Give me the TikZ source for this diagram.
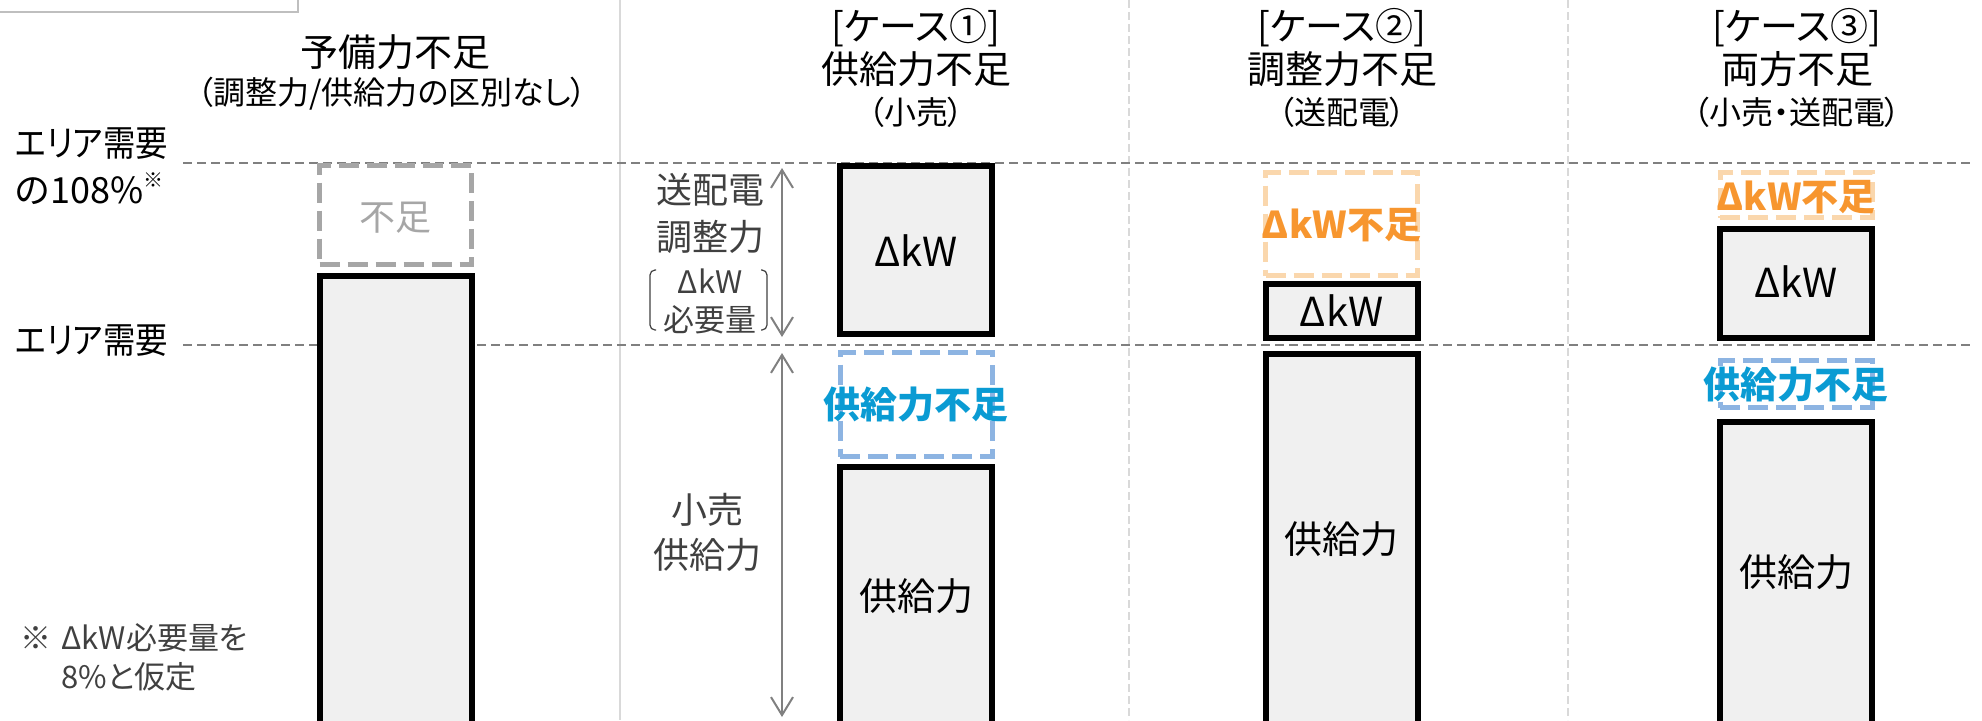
\documentclass[tikz,border=0pt]{standalone}
\usepackage{fontspec}
\setmainfont{Noto Sans CJK JP}[RawFeature=+palt]
\usetikzlibrary{arrows.meta}
\definecolor{boxfill}{HTML}{F0F0F0}
\definecolor{dgray}{HTML}{A6A6A6}
\definecolor{lineg}{HTML}{808080}
\definecolor{sepg}{HTML}{D9D9D9}
\definecolor{txtg}{HTML}{404040}
\definecolor{orgtxt}{HTML}{F7962F}
\definecolor{orgdash}{HTML}{FAD7AD}
\definecolor{bluetxt}{HTML}{0A9BD3}
\definecolor{bluedash}{HTML}{8DB4E2}
\definecolor{legendg}{HTML}{BFBFBF}
\begin{document}
\begin{tikzpicture}[x=0.5pt,y=-0.5pt,
  big/.style={font=\fontsize{18pt}{20pt}\selectfont, inner sep=0pt, text height=15.5pt, text depth=2.5pt},
  title/.style={font=\fontsize{19pt}{21pt}\selectfont, inner sep=0pt, text height=16.4pt, text depth=2.6pt},
  dkw/.style={font=\fontsize{20pt}{22pt}\selectfont, inner sep=0pt, text height=14.6pt, text depth=0pt},
  sub/.style={font=\fontsize{16pt}{18pt}\selectfont, inner sep=0pt, text height=13.8pt, text depth=2.2pt},
  small/.style={font=\fontsize{15.5pt}{17pt}\selectfont, inner sep=0pt, text height=13.4pt, text depth=2.1pt},
  boldlab/.style={font=\fontsize{18.5pt}{20pt}\selectfont\bfseries, inner sep=0pt, text height=16pt, text depth=2.5pt},
  solidbox/.style={draw=black, line width=3pt, fill=boxfill, inner sep=0pt, minimum width=76pt},
  dashbox/.style={line width=2.5pt, dash pattern=on 10pt off 4pt, inner sep=0pt, minimum width=76pt},
  levelline/.style={draw=lineg, line width=1.25pt, dash pattern=on 4.5pt off 2.5pt},
  sepline/.style={draw=sepg, line width=0.8pt},
  sepdash/.style={draw=sepg, line width=0.8pt, dash pattern=on 4pt off 2pt},
  garrow/.style={draw=lineg, line width=1pt, {Straight Barb[length=9pt,width=11pt]}-{Straight Barb[length=9pt,width=11pt]}},
  bracketline/.style={draw=txtg, line width=0.6pt, rounded corners=2.5pt}
]
\useasboundingbox (0,0) rectangle (1982,720);
\clip (0,0) rectangle (1982,720);

% partial legend frame at top-left
\draw[draw=legendg, line width=1pt, fill=white] (-10,-10) rectangle (298,12);

% separators
\coordinate (s1t) at (620,0);  \coordinate (s1b) at (620,720);
\coordinate (s2t) at (1129,0); \coordinate (s2b) at (1129,720);
\coordinate (s3t) at (1568,0); \coordinate (s3b) at (1568,720);
\draw[sepline] (s1t) -- (s1b);
\draw[sepdash] (s2t) -- (s2b);
\draw[sepdash] (s3t) -- (s3b);

% level lines
\coordinate (l1s) at (183,163); \coordinate (l1e) at (1975,163);
\coordinate (l2s) at (183,345); \coordinate (l2e) at (1975,345);
\draw[levelline] (l1s) -- (l1e);
\draw[levelline] (l2s) -- (l2e);

% left labels
\node[big, anchor=west] (lab108a) at (15,143) {\scalebox{0.9}[1]{エリア需要}};
\node[big, anchor=west] (lab108b) at (15,190) {の108\%\raisebox{0.42em}{\fontsize{10pt}{10pt}\selectfont ※}};
\node[big, anchor=west] (labdem) at (15,340) {\scalebox{0.9}[1]{エリア需要}};

% note
\node[small, anchor=west, text=txtg] (noteA) at (20,638) {※};
\node[small, anchor=west, text=txtg] (noteB) at (61,638) {ΔkW必要量を};
\node[small, anchor=west, text=txtg] (noteC) at (61,677) {8\%と仮定};

% ---------- column 0 ----------
\node[title] (t0a) at (395,53) {予備力不足};
\node[sub] (t0b) at (392,93) {（調整力/供給力の区別なし）};
\node[dashbox, draw=dgray, minimum height=49.5pt] (c0short) at (395.5,215) {};
\node[big, text=dgray] (c0shortlab) at (395.5,217) {不足};
\node[solidbox, minimum height=226pt] (c0sup) at (395.5,502) {};

% ---------- column 1 ----------
\node[title] (t1a) at (916,27) {[ケース①]};
\node[title] (t1b) at (916,70) {供給力不足};
\node[sub] (t1c) at (916,113) {（小売）};
\node[solidbox, minimum height=84pt] (c1dkw) at (916,250) {};
\node[dkw] (c1dkwlab) at (916,252) {ΔkW};
\node[dashbox, draw=bluedash, minimum height=52pt] (c1short) at (916,404.5) {};
\node[boldlab, text=bluetxt] (c1shortlab) at (916,405) {供給力不足};
\node[solidbox, minimum height=130.5pt] (c1sup) at (916,597.5) {};
\node[title] (c1suplab) at (916,597) {供給力};

% side labels & arrows
\node[big, text=txtg] (sA) at (710,190) {送配電};
\node[big, text=txtg] (sB) at (710,237) {調整力};
\node[small, text=txtg] (sC) at (710,282) {ΔkW};
\node[small, text=txtg] (sD) at (710,320) {必要量};
\draw[bracketline] (656,270) -- (650,270) -- (650,330) -- (656,330);
\draw[bracketline] (761,270) -- (767,270) -- (767,330) -- (761,330);
\node[big, text=txtg] (sE) at (707,510) {小売};
\node[big, text=txtg] (sF) at (707,555) {供給力};
\coordinate (a1t) at (782,168); \coordinate (a1b) at (782,337);
\coordinate (a2t) at (782,353); \coordinate (a2b) at (782,717);
\draw[garrow] (a1t) -- (a1b);
\draw[garrow] (a2t) -- (a2b);

% ---------- column 2 ----------
\node[title] (t2a) at (1342,27) {[ケース②]};
\node[title] (t2b) at (1342,70) {調整力不足};
\node[sub] (t2c) at (1342,113) {（送配電）};
\node[dashbox, draw=orgdash, minimum height=51.5pt] (c2short) at (1341.5,224) {};
\node[boldlab, text=orgtxt] (c2shortlab) at (1341.5,225) {ΔkW不足};
\node[solidbox, minimum height=27pt] (c2dkw) at (1341.5,311) {};
\node[dkw] (c2dkwlab) at (1341.5,312) {ΔkW};
\node[solidbox, minimum height=187pt] (c2sup) at (1341.5,541) {};
\node[title] (c2suplab) at (1341.5,540) {供給力};

% ---------- column 3 ----------
\node[title] (t3a) at (1797,27) {[ケース③]};
\node[title] (t3b) at (1797,70) {両方不足};
\node[sub] (t3c) at (1797,113) {（小売・送配電）};
\node[dashbox, draw=orgdash, minimum height=22.5pt] (c3shortA) at (1796,195) {};
\node[boldlab, text=orgtxt] (c3shortAlab) at (1796,197) {ΔkW不足};
\node[solidbox, minimum height=54.5pt] (c3dkw) at (1796,283.5) {};
\node[dkw] (c3dkwlab) at (1796,283) {ΔkW};
\node[dashbox, draw=bluedash, minimum height=23.5pt] (c3shortB) at (1796,384) {};
\node[boldlab, text=bluetxt] (c3shortBlab) at (1796,385) {供給力不足};
\node[solidbox, minimum height=153pt] (c3sup) at (1796,575) {};
\node[title] (c3suplab) at (1796,573) {供給力};
\end{tikzpicture}
\end{document}
